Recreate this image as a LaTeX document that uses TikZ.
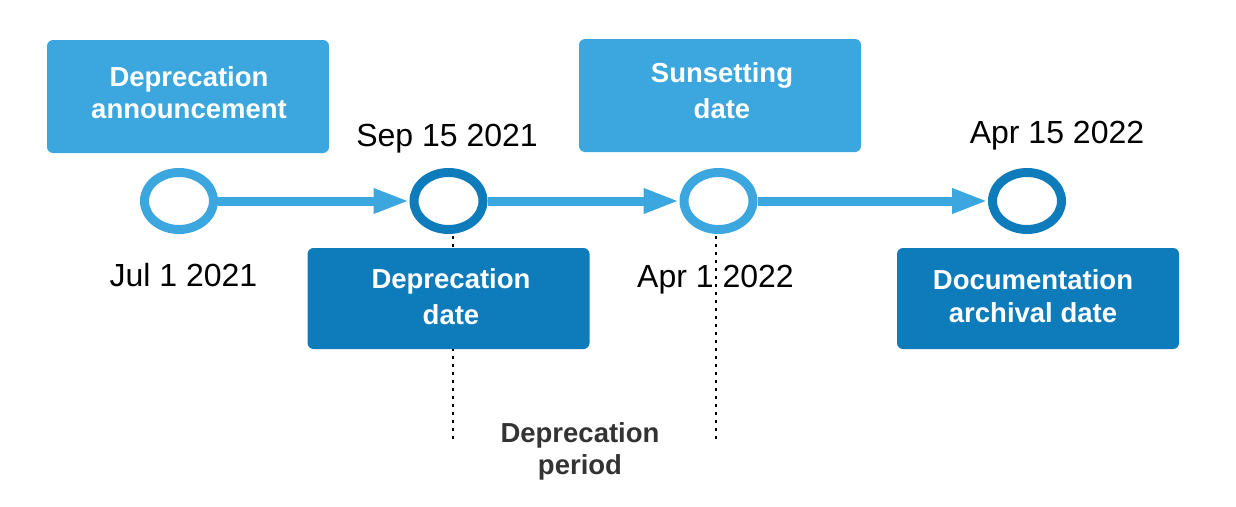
\documentclass[tikz,border=0pt]{standalone}
\usepackage{fontspec}
\setmainfont{Liberation Sans}
\usetikzlibrary{shapes.geometric,arrows.meta}
\definecolor{lblue}{HTML}{3CA6DE}
\definecolor{dblue}{HTML}{0E7BBB}
\definecolor{tgray}{HTML}{333333}
\tikzset{
  ring/.style={ellipse,draw,line width=9pt,fill=white,inner sep=0pt,minimum width=69pt,minimum height=57pt},
  lring/.style={ring,draw=lblue},
  dring/.style={ring,draw=dblue},
  flow/.style={draw=lblue,line width=9pt,-{Triangle[length=36pt,width=23pt]}},
  box/.style={rounded corners=6pt,inner sep=0pt,minimum width=282pt},
  lbox/.style={box,fill=lblue,minimum height=113pt},
  dbox/.style={box,fill=dblue,minimum height=101pt},
  boxtext/.style={align=center,text=white,inner sep=0pt},
  datelbl/.style={anchor=base,font=\fontsize{32}{36}\selectfont},
  guide/.style={line width=2pt,dash pattern=on 3pt off 5pt},
}
\begin{document}
\begin{tikzpicture}[x=1pt,y=-1pt]
\useasboundingbox (0,0) rectangle (1236,506);
% dotted guides
\coordinate (g1t) at (453,236);
\coordinate (g1b) at (453,440);
\coordinate (g2t) at (716,236);
\coordinate (g2b) at (716,440);
\draw[guide] (g1t) -- (g1b);
\draw[guide] (g2t) -- (g2b);
% rings
\node[lring] (e1) at (179,201) {};
\node[dring] (e2) at (448.5,201) {};
\node[lring] (e3) at (718.5,201) {};
\node[dring] (e4) at (1027,201) {};
\draw[flow] (e1) -- (e2);
\draw[flow] (e2) -- (e3);
\draw[flow] (e3) -- (e4);
% boxes
\node[lbox] (b1) at (188,96.5) {};
\node[lbox] (b3) at (720,95.5) {};
\node[dbox] (b2) at (448.5,298.5) {};
\node[dbox] (b4) at (1038,298.5) {};
\node[boxtext,font=\fontsize{27.5}{32}\selectfont\bfseries] (t1) at (189,93) {Deprecation\\announcement};
\node[boxtext,font=\fontsize{27.5}{36}\selectfont\bfseries] (t3) at (722,91) {Sunsetting\\date};
\node[boxtext,font=\fontsize{27.5}{36}\selectfont\bfseries] (t2) at (451,297) {Deprecation\\date};
\node[boxtext,font=\fontsize{27.5}{33}\selectfont\bfseries] (t4) at (1033,296.5) {Documentation\\archival date};
% dates
\node[datelbl] (d1) at (183.5,286) {Jul 1 2021};
\node[datelbl] (d2) at (447,146) {Sep 15 2021};
\node[datelbl] (d3) at (715.5,287) {Apr 1 2022};
\node[datelbl] (d4) at (1057,143) {Apr 15 2022};
% period
\node[align=center,inner sep=0pt,text=tgray,font=\fontsize{27.5}{32}\selectfont\bfseries] (p) at (580,451) {Deprecation\\period};
\end{tikzpicture}
\end{document}
